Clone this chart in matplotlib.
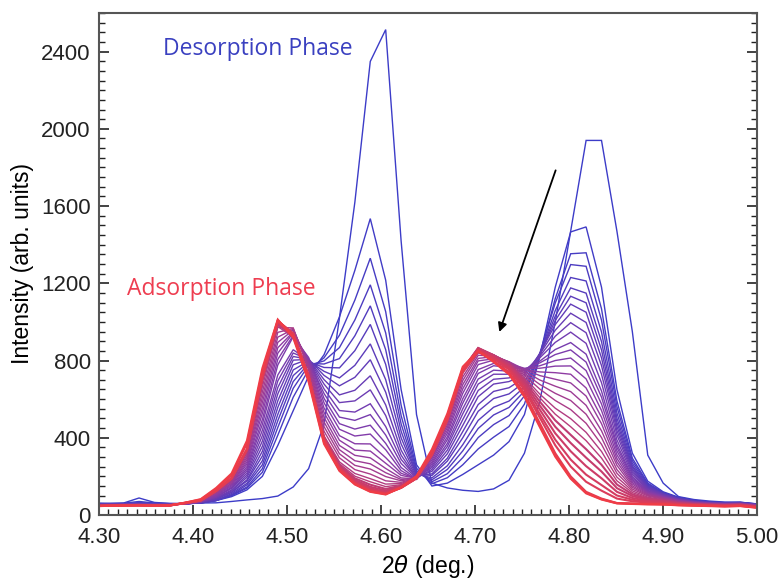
import matplotlib
matplotlib.use("Agg")
import matplotlib.pyplot as plt
from matplotlib.colors import LinearSegmentedColormap
from matplotlib.ticker import MultipleLocator, FormatStrFormatter

# 2theta sampling of the scans (deg.)
two_theta = [4.2934, 4.3098, 4.3262, 4.3426, 4.3590, 4.3754, 4.3918, 4.4082, 4.4246,
             4.4410, 4.4574, 4.4738, 4.4902, 4.5066, 4.5230, 4.5394, 4.5558, 4.5722,
             4.5886, 4.6050, 4.6214, 4.6378, 4.6542, 4.6706, 4.6870, 4.7034, 4.7198,
             4.7362, 4.7526, 4.7690, 4.7854, 4.8018, 4.8182, 4.8346, 4.8510, 4.8674,
             4.8838, 4.9002, 4.9166, 4.9330, 4.9494, 4.9658, 4.9822, 4.9986, 5.0150]

# Intensity of each scan (first = desorption phase, last = adsorption phase)
scan_00 = [62, 60, 62, 88, 65, 60, 58, 62, 63, 70, 78, 85, 98, 145, 240, 470, 1020, 1620, 2349, 2514, 1420, 520, 165, 140, 128, 122, 135, 180, 320, 590, 1000, 1470, 1940, 1940, 1470, 950, 310, 165, 95, 80, 72, 67, 66, 58, 55]
scan_01 = [60, 58, 61, 70, 62, 59, 60, 62, 75, 95, 130, 200, 360, 540, 720, 830, 1026, 1267, 1535, 1216, 650, 260, 150, 165, 210, 260, 310, 380, 520, 820, 1180, 1466, 1492, 1180, 650, 320, 175, 120, 92, 76, 68, 64, 66, 58, 53]
scan_02 = [58, 60, 58, 64, 60, 57, 59, 62, 75, 100, 139, 221, 413, 610, 753, 814, 931, 1113, 1330, 1053, 569, 242, 162, 193, 260, 342, 403, 458, 574, 824, 1121, 1353, 1358, 1068, 591, 294, 165, 116, 90, 75, 67, 63, 65, 57, 52]
scan_03 = [57, 56, 59, 62, 58, 58, 58, 63, 75, 103, 145, 240, 453, 656, 775, 798, 867, 1010, 1192, 943, 515, 230, 172, 214, 297, 401, 468, 515, 617, 838, 1098, 1297, 1288, 1009, 561, 281, 160, 114, 88, 74, 66, 62, 64, 56, 52]
scan_04 = [56, 58, 57, 60, 57, 56, 59, 63, 75, 105, 156, 260, 488, 691, 785, 782, 810, 928, 1083, 856, 472, 220, 182, 236, 332, 448, 518, 557, 641, 833, 1059, 1230, 1212, 948, 529, 267, 155, 112, 86, 73, 65, 62, 63, 56, 51]
scan_05 = [55, 56, 58, 59, 58, 55, 58, 63, 75, 111, 164, 281, 521, 722, 793, 764, 762, 851, 987, 780, 434, 212, 192, 255, 364, 490, 558, 590, 663, 832, 1030, 1176, 1149, 898, 502, 255, 150, 110, 85, 72, 65, 61, 63, 55, 51]
scan_06 = [54, 57, 56, 58, 56, 55, 58, 65, 81, 117, 176, 305, 557, 751, 798, 744, 710, 775, 886, 701, 400, 210, 205, 279, 400, 537, 603, 627, 689, 835, 1007, 1133, 1099, 855, 479, 247, 147, 109, 84, 71, 64, 61, 62, 55, 50]
scan_07 = [55, 54, 57, 57, 55, 56, 57, 65, 82, 119, 182, 330, 591, 778, 807, 723, 669, 713, 804, 636, 368, 203, 213, 294, 432, 572, 640, 659, 711, 838, 986, 1092, 1050, 814, 458, 238, 144, 108, 83, 70, 64, 60, 62, 54, 50]
scan_08 = [53, 55, 56, 57, 56, 54, 57, 66, 85, 125, 195, 356, 627, 802, 806, 701, 622, 646, 721, 570, 336, 197, 226, 317, 464, 613, 678, 691, 728, 833, 957, 1045, 997, 774, 437, 229, 140, 106, 82, 70, 63, 60, 61, 54, 49]
scan_09 = [52, 55, 54, 56, 55, 55, 57, 66, 87, 130, 206, 383, 660, 821, 806, 678, 582, 591, 648, 515, 310, 192, 236, 336, 494, 645, 703, 710, 738, 823, 926, 996, 944, 729, 415, 219, 136, 104, 81, 69, 63, 59, 61, 53, 49]
scan_10 = [53, 53, 55, 56, 54, 55, 58, 68, 92, 138, 217, 411, 694, 839, 805, 653, 541, 533, 576, 458, 288, 194, 246, 355, 524, 678, 729, 729, 747, 814, 894, 947, 889, 685, 389, 209, 132, 102, 80, 68, 62, 59, 60, 53, 48]
scan_11 = [52, 54, 54, 55, 55, 53, 57, 68, 93, 141, 229, 439, 725, 856, 800, 629, 507, 490, 520, 414, 267, 191, 255, 371, 550, 704, 750, 745, 750, 797, 857, 893, 833, 642, 366, 198, 127, 99, 78, 67, 61, 58, 60, 52, 48]
scan_12 = [51, 53, 55, 55, 53, 54, 58, 68, 94, 144, 240, 469, 777, 923, 816, 604, 473, 445, 465, 371, 246, 187, 265, 390, 579, 733, 773, 764, 756, 788, 831, 855, 792, 610, 350, 191, 124, 98, 77, 66, 61, 58, 59, 52, 47]
scan_13 = [52, 52, 54, 54, 54, 53, 57, 68, 99, 151, 251, 495, 806, 930, 808, 581, 444, 409, 419, 338, 230, 184, 274, 405, 602, 753, 785, 771, 756, 773, 800, 813, 748, 575, 332, 183, 121, 96, 76, 66, 60, 57, 59, 51, 47]
scan_14 = [50, 53, 53, 55, 53, 54, 58, 69, 103, 157, 264, 526, 838, 943, 801, 554, 411, 369, 368, 297, 216, 188, 284, 423, 630, 779, 802, 783, 760, 760, 771, 772, 705, 541, 312, 176, 118, 94, 75, 65, 60, 57, 58, 51, 46]
scan_15 = [51, 52, 54, 54, 52, 53, 59, 71, 108, 163, 275, 553, 866, 948, 792, 531, 387, 336, 331, 268, 205, 190, 295, 438, 653, 798, 809, 786, 753, 741, 737, 729, 658, 506, 293, 168, 114, 92, 74, 64, 59, 56, 58, 50, 46]
scan_16 = [50, 51, 53, 53, 53, 52, 58, 72, 109, 165, 287, 582, 894, 958, 783, 506, 360, 309, 296, 241, 192, 187, 297, 453, 675, 811, 820, 794, 754, 722, 703, 684, 616, 473, 275, 160, 110, 90, 72, 63, 58, 56, 57, 50, 45]
scan_17 = [49, 52, 52, 54, 52, 53, 59, 72, 113, 172, 298, 609, 921, 962, 773, 482, 338, 281, 265, 219, 184, 190, 307, 466, 696, 827, 824, 792, 744, 699, 667, 639, 568, 436, 257, 151, 106, 88, 71, 62, 58, 55, 57, 49, 45]
scan_18 = [50, 50, 53, 53, 51, 52, 60, 72, 116, 176, 309, 637, 946, 966, 763, 458, 317, 257, 238, 199, 177, 190, 314, 478, 715, 839, 826, 792, 734, 676, 630, 593, 522, 401, 235, 143, 102, 85, 69, 61, 57, 54, 56, 49, 44]
scan_19 = [49, 51, 52, 52, 52, 51, 60, 74, 120, 181, 320, 664, 972, 969, 752, 434, 296, 235, 212, 177, 169, 192, 321, 491, 734, 851, 829, 790, 723, 652, 593, 546, 475, 366, 216, 134, 98, 82, 67, 60, 56, 54, 56, 48, 44]
scan_20 = [48, 50, 51, 53, 51, 52, 61, 74, 123, 186, 331, 692, 976, 922, 720, 410, 275, 215, 188, 160, 163, 193, 328, 503, 751, 862, 829, 787, 711, 626, 553, 499, 428, 329, 196, 125, 92, 79, 65, 58, 55, 53, 55, 47, 43]
scan_21 = [49, 49, 52, 52, 50, 51, 60, 75, 123, 187, 333, 698, 984, 927, 720, 405, 266, 201, 172, 147, 157, 192, 327, 504, 753, 864, 829, 784, 703, 607, 522, 457, 385, 295, 177, 116, 88, 76, 63, 57, 54, 52, 54, 46, 42]
scan_22 = [47, 50, 51, 51, 51, 50, 61, 75, 124, 188, 335, 703, 990, 931, 720, 400, 258, 190, 157, 135, 152, 192, 325, 503, 754, 865, 828, 780, 694, 587, 490, 415, 341, 260, 158, 107, 83, 73, 61, 56, 53, 51, 53, 45, 42]
scan_23 = [48, 49, 50, 52, 50, 51, 62, 75, 124, 189, 337, 707, 995, 934, 720, 397, 252, 182, 146, 127, 148, 191, 323, 502, 754, 864, 825, 775, 683, 566, 457, 373, 297, 225, 139, 98, 78, 70, 59, 55, 52, 50, 52, 44, 41]
scan_24 = [47, 48, 51, 51, 49, 50, 61, 75, 125, 189, 338, 710, 999, 936, 720, 394, 247, 175, 138, 120, 145, 191, 321, 500, 752, 861, 821, 768, 671, 545, 423, 330, 253, 190, 120, 88, 73, 66, 57, 53, 51, 49, 51, 43, 40]
scan_25 = [46, 49, 50, 50, 50, 49, 62, 75, 125, 190, 339, 713, 1002, 938, 720, 392, 243, 169, 131, 114, 142, 190, 318, 498, 750, 857, 815, 760, 659, 522, 390, 287, 209, 155, 101, 79, 68, 63, 55, 52, 50, 48, 50, 42, 39]
scan_26 = [47, 48, 49, 51, 49, 50, 62, 75, 125, 190, 340, 715, 1005, 940, 720, 391, 242, 167, 127, 112, 141, 190, 315, 496, 747, 854, 811, 753, 648, 504, 361, 251, 172, 126, 85, 71, 64, 60, 54, 51, 49, 47, 49, 41, 38]
scan_27 = [46, 47, 50, 50, 48, 49, 63, 75, 125, 190, 340, 715, 1005, 940, 720, 390, 240, 165, 125, 110, 140, 190, 310, 490, 740, 845, 800, 740, 630, 475, 320, 200, 120, 85, 62, 60, 58, 56, 52, 50, 48, 46, 48, 40, 37]
scan_28 = [45, 48, 49, 49, 49, 50, 64, 80, 135, 205, 370, 745, 1010, 925, 700, 375, 232, 160, 122, 108, 142, 198, 330, 515, 760, 848, 795, 732, 618, 462, 310, 192, 115, 82, 61, 58, 56, 55, 51, 49, 47, 45, 47, 39, 36]
scan_29 = [46, 47, 48, 50, 48, 49, 64, 82, 140, 215, 385, 760, 1012, 918, 690, 368, 228, 158, 120, 106, 143, 202, 340, 525, 768, 850, 792, 728, 612, 455, 302, 188, 112, 80, 60, 57, 55, 54, 50, 48, 46, 44, 46, 38, 36]

scans = [scan_00, scan_01, scan_02, scan_03, scan_04, scan_05, scan_06, scan_07,
         scan_08, scan_09, scan_10, scan_11, scan_12, scan_13, scan_14, scan_15,
         scan_16, scan_17, scan_18, scan_19, scan_20, scan_21, scan_22, scan_23,
         scan_24, scan_25, scan_26, scan_27, scan_28, scan_29]

x_ticks = [4.30, 4.40, 4.50, 4.60, 4.70, 4.80, 4.90, 5.00]
y_ticks = [0, 400, 800, 1200, 1600, 2000, 2400]

plt.rcParams['font.family'] = ['Liberation Sans', 'DejaVu Sans']
plt.rcParams['mathtext.fontset'] = 'dejavusans'

fig = plt.figure(figsize=(7.82, 5.80), dpi=100)
ax = fig.add_axes([0.1266, 0.1121, 0.8414, 0.8655])

cmap = LinearSegmentedColormap.from_list('desad', ['#3c3cc8', '#8a3ca6', '#f03c46'])
n = len(scans)
for i, s in enumerate(scans):
    lw = 1.0 if i < n - 8 else 1.5
    ax.plot(two_theta, s, color=cmap(i / (n - 1)), lw=lw, solid_joinstyle='miter')

ax.set_xlim(4.30, 5.00)
ax.set_ylim(0, 2600)
ax.set_xticks(x_ticks)
ax.set_yticks(y_ticks)
ax.xaxis.set_major_formatter(FormatStrFormatter('%.2f'))
ax.xaxis.set_minor_locator(MultipleLocator(0.01))
ax.yaxis.set_minor_locator(MultipleLocator(50))
ax.tick_params(which='both', direction='in', right=True, top=False, labelsize=16,
               colors='#222222')
ax.tick_params(which='major', length=7, width=1.2)
ax.tick_params(which='minor', length=4, width=1.0)
ax.tick_params(axis='x', which='major', pad=9)
ax.tick_params(axis='y', which='major', pad=6)
for sp in ax.spines.values():
    sp.set_color('#555555')
    sp.set_linewidth(1.5)

ax.set_xlabel(r'2$\theta$ (deg.)', fontsize=16.5, labelpad=3)
ax.set_ylabel('Intensity (arb. units)', fontsize=16.5, labelpad=5)

ax.text(4.3678, 2380, 'Desorption Phase', color='#3a40c0', fontsize=16.5,
        family=['Open Sans', 'DejaVu Sans'], ha='left', va='baseline')
ax.text(4.3294, 1138, 'Adsorption Phase', color='#ee3d50', fontsize=16.5,
        family=['Open Sans', 'DejaVu Sans'], ha='left', va='baseline')

ax.annotate('', xy=(4.7259, 948), xytext=(4.7858, 1785),
            arrowprops=dict(arrowstyle='-|>', color='black', lw=1.3,
                            mutation_scale=13, shrinkA=0, shrinkB=0))

fig.savefig('out.png', dpi=100)
